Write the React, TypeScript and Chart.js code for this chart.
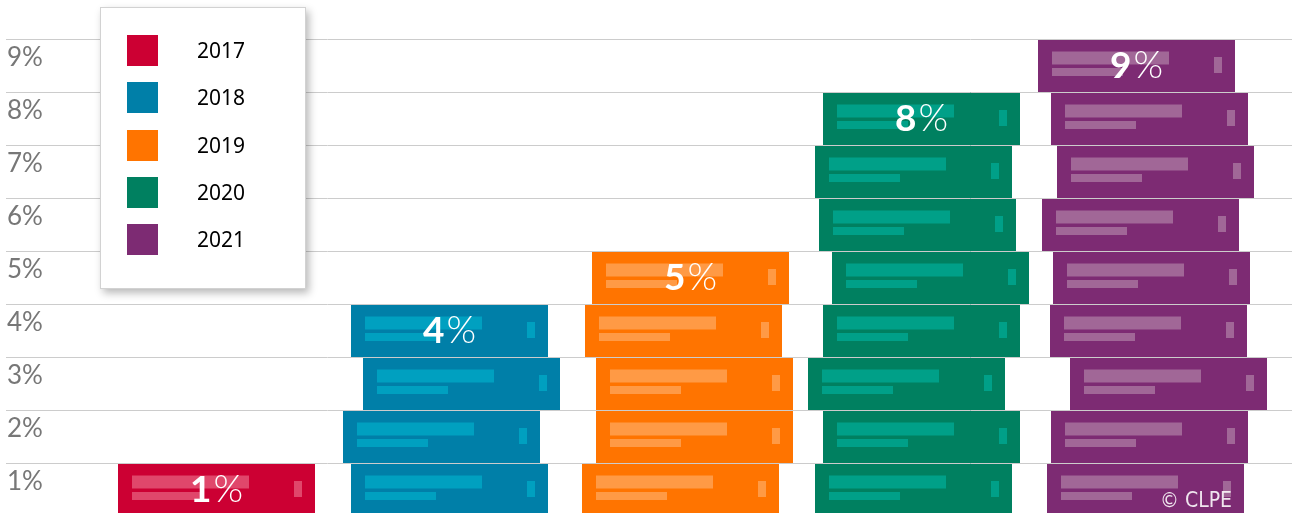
import { useEffect, useRef } from 'react';
import { Chart, registerables } from 'chart.js';

Chart.register(...registerables);

// ---- data ----
const YEARS = ['2017', '2018', '2019', '2020', '2021'];
const VALUES = [1, 4, 5, 8, 9];
const Y_TICKS = [1, 2, 3, 4, 5, 6, 7, 8, 9];
const TICK_LABELS = ['1%', '2%', '3%', '4%', '5%', '6%', '7%', '8%', '9%'];

// ---- styles ----
const COLORS = ['#CC0033', '#007FA8', '#FF7400', '#008060', '#7D2B73'];
const STRIPE_COLORS = ['#E0476B', '#00A0C0', '#FF9A45', '#00A088', '#A16797'];
// horizontal nudge (px) of each stacked "book", bottom book first (decoration only)
const BOOK_NUDGE = [
  [0],
  [0, -8, 12, 0],
  [-3, 11, 11, 0, 7],
  [-3, 5, -10, 5, 14, 1, -3, 5],
  [-4, 0, 19, -1, 2, -9, 6, 0, -13],
];

const booksPlugin = {
  id: 'books',
  afterDatasetsDraw(chart: any) {
    const ctx = chart.ctx as CanvasRenderingContext2D;
    const meta = chart.getDatasetMeta(0);
    const ys = chart.scales.y;
    ctx.save();
    meta.data.forEach((bar: any, i: number) => {
      const { x, width } = bar.getProps(['x', 'width'], true);
      const n = VALUES[i];
      const w = Math.round(width);
      for (let k = 0; k < n; k++) {
        const top = Math.round(ys.getPixelForValue(k + 1));
        const bottom = Math.round(ys.getPixelForValue(k));
        const left = Math.round(x - width / 2 + BOOK_NUDGE[i][k]);
        ctx.fillStyle = COLORS[i];
        ctx.fillRect(left, top, w, bottom - top);
        ctx.fillStyle = STRIPE_COLORS[i];
        ctx.fillRect(left + 14, top + 12.5, 117, 13);
        ctx.fillRect(left + 14, top + 29, 71, 8);
        ctx.fillRect(left + 176, top + 18, 8, 16);
      }
      // value label on the top book
      const top = ys.getPixelForValue(n);
      const bottom = ys.getPixelForValue(n - 1);
      const cx = Math.round(x - width / 2 + BOOK_NUDGE[i][n - 1]) + w / 2;
      const cy = (top + bottom) / 2;
      const num = String(VALUES[i]);
      const numFont = 'bold 37px Lato';
      const pctFont = '300 38px Lato';
      ctx.font = numFont;
      const wn = ctx.measureText(num).width;
      ctx.font = pctFont;
      const wp = ctx.measureText('%').width;
      const gap = 2;
      const start = cx - (wn + wp + gap) / 2;
      ctx.fillStyle = '#ffffff';
      ctx.textAlign = 'left';
      ctx.textBaseline = 'alphabetic';
      ctx.font = numFont;
      ctx.fillText(num, start, cy + 12.5);
      ctx.font = pctFont;
      ctx.fillText('%', start + wn + gap, cy + 12.5);
    });
    ctx.restore();
  },
};

export default function App() {
  const canvasRef = useRef<HTMLCanvasElement | null>(null);

  useEffect(() => {
    if (!canvasRef.current) return;
    const chart = new Chart(canvasRef.current, {
      type: 'bar',
      data: {
        labels: YEARS,
        datasets: [
          {
            label: 'Share',
            data: VALUES.map((v, i) => ({ x: i, y: v })) as any,
            backgroundColor: 'rgba(0,0,0,0)',
            borderWidth: 0,
            barThickness: 197,
          },
        ],
      },
      options: {
        animation: false,
        responsive: false,
        events: [],
        layout: { padding: { left: 4, right: 0, top: 0, bottom: 0 } },
        plugins: {
          legend: { display: false },
          tooltip: { enabled: false },
        },
        scales: {
          x: {
            type: 'linear',
            display: false,
            offset: false,
            min: -0.9025,
            max: 4.6109,
          },
          y: {
            type: 'linear',
            min: 3 / 53,
            max: 516 / 53,
            afterBuildTicks: (scale: any) => {
              scale.ticks = Y_TICKS.map((v) => ({ value: v }));
            },
            afterFit: (scale: any) => {
              scale.paddingTop = 0;
              scale.paddingBottom = 0;
            },
            border: { display: false },
            grid: {
              color: '#cccccc',
              lineWidth: 1,
              drawTicks: false,
              z: 1,
            },
            ticks: {
              mirror: true,
              padding: 1,
              labelOffset: 19,
              color: '#777777',
              font: { family: 'Lato', size: 26 },
              callback: (value: any) => {
                const idx = Y_TICKS.indexOf(Number(value));
                return idx >= 0 ? TICK_LABELS[idx] : '';
              },
            },
          },
        },
      },
      plugins: [booksPlugin],
    });
    return () => chart.destroy();
  }, []);

  return (
    <div style={{ position: 'absolute', left: 0, top: 0, width: 1292, height: 513, overflow: 'hidden', background: '#fff' }}>
      <canvas ref={canvasRef} width={1292} height={513} style={{ display: 'block', width: 1292, height: 513 }} />
      <div
        style={{
          position: 'absolute',
          left: 100,
          top: 7,
          width: 206,
          height: 282,
          boxSizing: 'border-box',
          background: '#ffffff',
          border: '1px solid #d2d2d2',
          boxShadow: '3px 4px 8px rgba(0,0,0,0.28)',
        }}
      >
        {YEARS.map((yr, i) => (
          <div
            key={yr}
            style={{
              position: 'absolute',
              left: 26,
              top: 27 + Math.round(i * 47.25),
              height: 31,
              display: 'flex',
              alignItems: 'center',
            }}
          >
            <span style={{ display: 'inline-block', width: 31, height: 31, background: COLORS[i] }} />
            <span style={{ marginLeft: 39, fontFamily: '"Noto Sans", sans-serif', fontSize: 21, lineHeight: '31px', color: '#000' }}>
              {yr}
            </span>
          </div>
        ))}
      </div>
      <span
        style={{
          position: 'absolute',
          right: 60,
          top: 490,
          fontFamily: '"DejaVu Sans Condensed", "DejaVu Sans", sans-serif',
          fontSize: 21,
          lineHeight: '21px',
          color: 'rgba(255,255,255,0.88)',
          whiteSpace: 'nowrap',
        }}
      >
        © CLPE
      </span>
    </div>
  );
}
